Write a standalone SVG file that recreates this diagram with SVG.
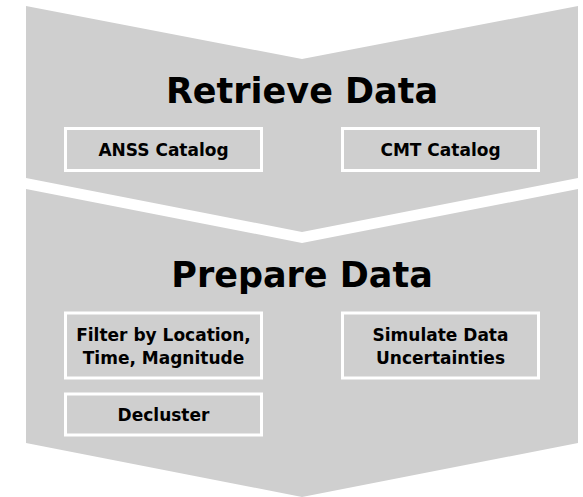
<svg xmlns="http://www.w3.org/2000/svg" width="583" height="497" viewBox="0 0 583 497">
  <style>
    .stage { fill: #cfcfcf; }
    .box { fill: none; stroke: #ffffff; stroke-width: 3; }
    .title { font-family: "DejaVu Sans", "Liberation Sans", sans-serif; font-weight: bold; font-size: 35px; fill: #000000; text-anchor: middle; }
    .label { font-family: "DejaVu Sans", "Liberation Sans", sans-serif; font-weight: bold; font-size: 17px; fill: #000000; text-anchor: middle; }
  </style>
  <rect width="583" height="497" fill="#ffffff"/>

  <!-- Stage 1: chevron band -->
  <g id="retrieve-data">
    <polygon class="stage" points="26,6 302,59 578,6 578,178 302,232 26,178"/>
    <text class="title" x="302" y="103">Retrieve Data</text>
  </g>
  <g id="anss-catalog">
    <rect class="box" x="65.5" y="128.5" width="196" height="42"/>
    <text class="label" x="163.5" y="156">ANSS Catalog</text>
  </g>
  <g id="cmt-catalog">
    <rect class="box" x="342.5" y="128.5" width="196" height="42"/>
    <text class="label" x="440.5" y="156">CMT Catalog</text>
  </g>

  <!-- Stage 2: chevron band -->
  <g id="prepare-data">
    <polygon class="stage" points="26,189 302,243 578,189 578,443 302,497 26,443"/>
    <text class="title" x="302" y="287">Prepare Data</text>
  </g>
  <g id="filter">
    <rect class="box" x="65.5" y="313" width="196" height="65"/>
    <text class="label" x="163.5" y="341">Filter by Location,</text>
    <text class="label" x="163.5" y="364">Time, Magnitude</text>
  </g>
  <g id="simulate">
    <rect class="box" x="342.5" y="313" width="196" height="65"/>
    <text class="label" x="440.5" y="341">Simulate Data</text>
    <text class="label" x="440.5" y="364">Uncertainties</text>
  </g>
  <g id="decluster">
    <rect class="box" x="65.5" y="394" width="196" height="41"/>
    <text class="label" x="163.5" y="421">Decluster</text>
  </g>

  <!-- no connectors: stages are stacked chevrons -->
  <g id="connectors"/>
</svg>
